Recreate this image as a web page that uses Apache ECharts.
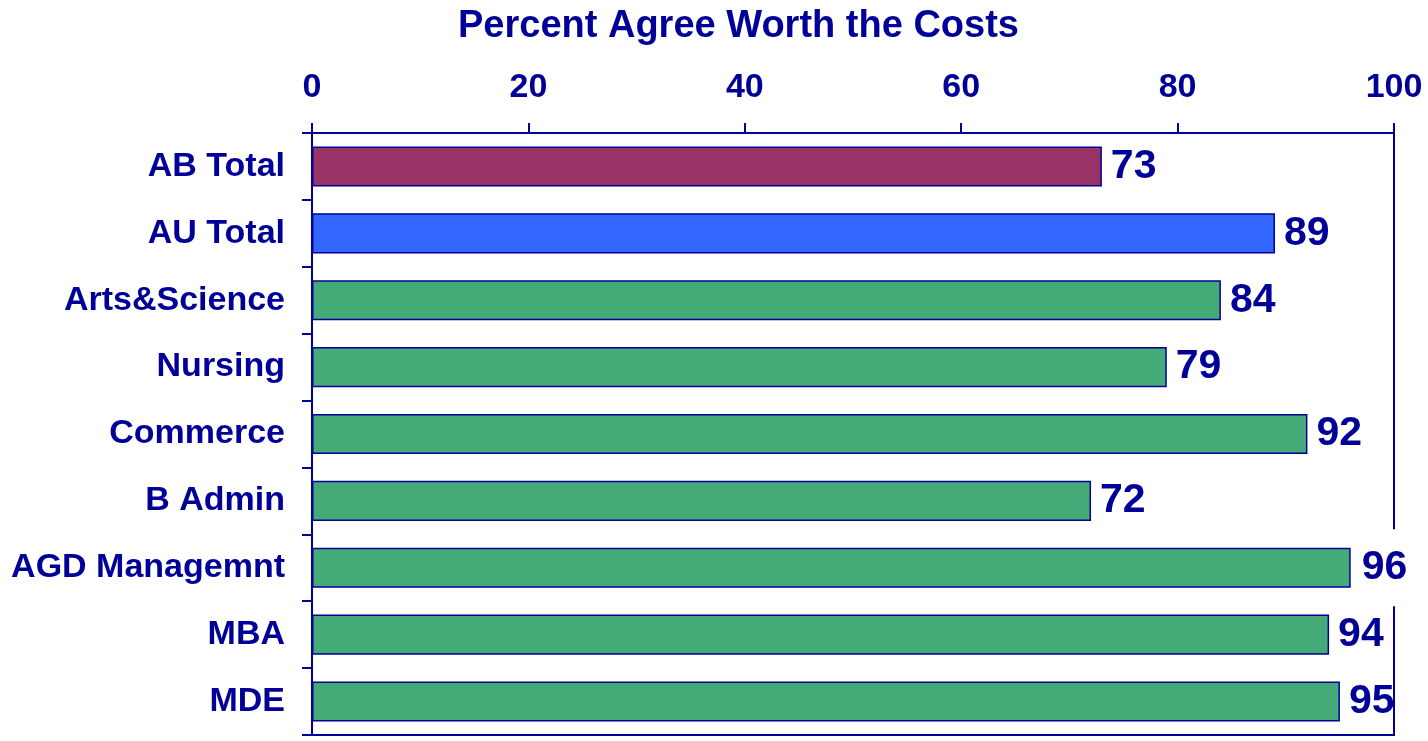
<!DOCTYPE html>
<html><head><meta charset="utf-8">
<script src="https://cdn.jsdelivr.net/npm/echarts@6/dist/echarts.min.js"></script>
<style>html,body{margin:0;padding:0;background:#fff}#c{width:1428px;height:741px}</style>
</head><body><div id="c"></div>
<script>
const categories = ['AB Total','AU Total','Arts&Science','Nursing','Commerce','B Admin','AGD Managemnt','MBA','MDE'];
const values = [73, 89, 84, 79, 92, 72, 96, 94, 95];
const barColors = ['#993366','#3366FF','#44AA78','#44AA78','#44AA78','#44AA78','#44AA78','#44AA78','#44AA78'];
const xTicks = [0, 20, 40, 60, 80, 100];
const titleText = 'Percent Agree Worth the Costs';

const NAVY = '#000099';
const FONT = '"Liberation Sans", Arial, sans-serif';
const chart = echarts.init(document.getElementById('c'), null, {renderer:'canvas'});
chart.setOption({
  animation: false,
  backgroundColor: '#fff',
  title: {
    text: titleText, left: 453, top: 3,
    textStyle: {color: NAVY, fontFamily: FONT, fontWeight: 'bold', fontSize: 38}
  },
  grid: {
    left: 312, right: 34, top: 133, bottom: 6, containLabel: false,
    show: true, borderColor: NAVY, borderWidth: 2, backgroundColor: 'transparent'
  },
  xAxis: {
    type: 'value', position: 'top', min: xTicks[0], max: xTicks[xTicks.length-1], interval: 20,
    axisLine: {show: true, lineStyle: {color: NAVY, width: 2}},
    axisTick: {show: true, length: 10, lineStyle: {color: NAVY, width: 2}},
    splitLine: {show: false},
    axisLabel: {color: NAVY, fontFamily: FONT, fontWeight: 'bold', fontSize: 34, margin: 28}
  },
  yAxis: {
    type: 'category', inverse: true, data: categories,
    axisLine: {show: true, lineStyle: {color: NAVY, width: 2}},
    axisTick: {show: true, length: 10, lineStyle: {color: NAVY, width: 2}},
    axisLabel: {color: NAVY, fontFamily: FONT, fontWeight: 'bold', fontSize: 34, margin: 27,
                padding: [6, 0, 0, 0]}
  },
  series: [{
    type: 'bar',
    barCategoryGap: '40%',
    data: values.map((v, i) => {
      const d = {value: v, itemStyle: {color: barColors[i]}};
      if (i === 6) d.label = {backgroundColor: '#fff', padding: [18, 2]};
      return d;
    }),
    itemStyle: {borderColor: NAVY, borderWidth: 1.5},
    label: {
      show: true, position: 'right', distance: 9,
      color: NAVY, fontFamily: FONT, fontWeight: 'bold', fontSize: 41
    }
  }]
});
</script></body></html>
